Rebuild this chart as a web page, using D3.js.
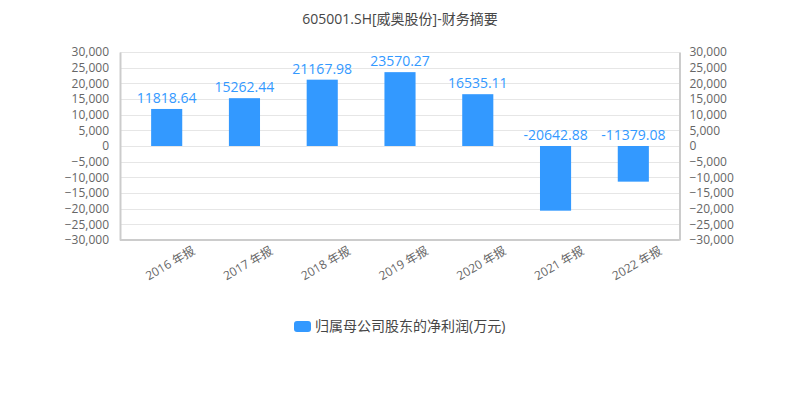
<!DOCTYPE html>
<html><head><meta charset="utf-8">
<script src="https://cdn.jsdelivr.net/npm/d3@7"></script>
<style>
body{margin:0;background:#fff;}
text{font-family:"Open Sans","Noto Sans CJK SC",sans-serif;}
</style></head>
<body><svg id="c" width="800" height="400"></svg>
<script>
const title = "605001.SH[威奥股份]-财务摘要";
const categories = ["2016 年报","2017 年报","2018 年报","2019 年报","2020 年报","2021 年报","2022 年报"];
const values = [11818.64, 15262.44, 21167.98, 23570.27, 16535.11, -20642.88, -11379.08];
const seriesName = "归属母公司股东的净利润(万元)";
const yTicks = [-30000,-25000,-20000,-15000,-10000,-5000,0,5000,10000,15000,20000,25000,30000];

const svg = d3.select("#c");
const L=120, R=679.5, T=52, B=240;
const blue="#3399ff";

const y = d3.scaleLinear().domain([-30000,30000]).range([B,T]);
const x = d3.scaleBand().domain(categories).range([127.8,672.2]).paddingInner(0.6).paddingOuter(0.3);

svg.append("text").attr("x",400).attr("y",24).attr("text-anchor","middle")
  .attr("font-size",14).attr("fill","#464646").text(title);

// grid
svg.append("g").selectAll("line").data(yTicks).join("line")
  .attr("x1",L).attr("x2",R).attr("y1",d=>Math.round(y(d))+0.5).attr("y2",d=>Math.round(y(d))+0.5)
  .attr("stroke","#e6e6e6");

// axes
const fmt = d3.format(",");
const ga = svg.append("g").attr("transform",`translate(${L},0)`)
  .call(d3.axisLeft(y).tickValues(yTicks).tickFormat(fmt).tickSize(0).tickPadding(11));
const gb = svg.append("g").attr("transform",`translate(${R},0)`)
  .call(d3.axisRight(y).tickValues(yTicks).tickFormat(fmt).tickSize(0).tickPadding(10));
[ga,gb].forEach(g=>{
  g.select(".domain").attr("stroke","#cccccc").attr("stroke-width",2);
  g.selectAll("text").attr("font-size",12).attr("fill","#666").style("font-family",'"Open Sans","Noto Sans CJK SC",sans-serif');
});
svg.append("line").attr("x1",L).attr("x2",R).attr("y1",B).attr("y2",B).attr("stroke","#cccccc").attr("stroke-width",2);

// bars
svg.append("g").selectAll("rect").data(values).join("rect")
  .attr("x",(d,i)=>x(categories[i])).attr("width",x.bandwidth())
  .attr("y",d=>y(Math.max(0,d))).attr("height",d=>Math.abs(y(d)-y(0)))
  .attr("fill",blue);

// labels
svg.append("g").selectAll("text").data(values).join("text")
  .attr("x",(d,i)=>x(categories[i])+x.bandwidth()/2)
  .attr("y",d=>y(Math.max(0,d))-6)
  .attr("text-anchor","middle").attr("font-size",14).attr("fill",blue)
  .text(d=>d.toFixed(2));

// x labels
svg.append("g").selectAll("text").data(categories).join("text")
  .attr("transform",d=>`translate(${x(d)+x.bandwidth()/2+4},${264}) rotate(-30)`)
  .attr("text-anchor","middle").attr("dominant-baseline","middle")
  .attr("font-size",12).attr("fill","#666").text(d=>d);

// legend
const lg = svg.append("g");
lg.append("rect").attr("x",294).attr("y",321).attr("width",17).attr("height",11).attr("rx",3).attr("fill",blue);
lg.append("text").attr("x",315).attr("y",331).attr("font-size",14).attr("fill","#464646").text(seriesName);
</script></body></html>
